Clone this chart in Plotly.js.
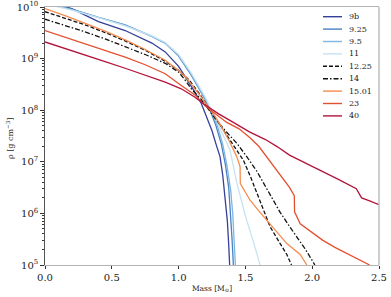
<!DOCTYPE html>
<html><head><meta charset="utf-8">
<script src="https://cdn.plot.ly/plotly-3.0.1.min.js"></script>
<style>html,body{margin:0;padding:0;background:#fff}#c{width:391px;height:297px}</style>
</head><body><div id="c"></div>
<script>
const names = ["9b","9.25","9.5","11","12.25","14","15.01","23","40"];
const colors = ["#35409a","#4a80c4","#7db6df","#c6e3f2","#111111","#111111","#f68b4e","#e4502f","#b3133b"];
const dashes = ["solid","solid","solid","solid","4px,2px","5px,2px,1.5px,2px","solid","solid","solid"];

const m_9b  = [0,0.2,0.4,0.6,0.8,0.9,1.0,1.07,1.12,1.17,1.21,1.25,1.28,1.31,1.33,1.35,1.365,1.375,1.382];
const r_9b  = [1.35e10,9.3e9,5.2e9,3.5e9,2.0e9,1.35e9,7.1e8,3.7e8,2.3e8,1.35e8,7.6e7,4.0e7,2.2e7,1.26e7,5.6e6,2.0e6,7.1e5,2.5e5,1.0e5];

const m_925 = [0,0.2,0.4,0.6,0.8,0.9,1.0,1.09,1.15,1.2,1.24,1.28,1.32,1.35,1.375,1.39,1.40,1.41];
const r_925 = [1.26e10,9.1e9,6.3e9,4.5e9,2.7e9,2.0e9,1.12e9,5.0e8,2.7e8,1.6e8,9.3e7,5.0e7,2.2e7,8.9e6,3.2e6,1.0e6,3.2e5,1.0e5];

const m_95  = [0,0.2,0.4,0.6,0.8,0.9,1.0,1.09,1.15,1.2,1.25,1.29,1.33,1.36,1.39,1.405,1.415,1.425];
const r_95  = [1.2e10,8.9e9,6.3e9,4.4e9,2.7e9,2.0e9,1.15e9,5.2e8,2.8e8,1.66e8,8.9e7,5.0e7,2.2e7,8.9e6,2.8e6,1.0e6,3.2e5,1.0e5];

const m_11  = [0,0.2,0.4,0.6,0.8,0.9,1.0,1.09,1.15,1.2,1.25,1.3,1.35,1.385,1.435,1.5,1.56,1.61];
const r_11  = [1.15e10,8.7e9,6.2e9,4.3e9,2.75e9,2.05e9,1.2e9,5.5e8,3.0e8,1.78e8,9.5e7,5.0e7,2.6e7,1.7e7,4.0e6,8.9e5,2.8e5,1.0e5];

const m_1225 = [0,0.15,0.3,0.45,0.6,0.75,0.9,1.0,1.08,1.15,1.22,1.29,1.36,1.42,1.485,1.54,1.6,1.685,1.76,1.81,1.845];
const r_1225 = [8.1e9,6.0e9,4.5e9,3.2e9,2.2e9,1.45e9,8.9e8,5.9e8,3.8e8,2.2e8,1.17e8,6.3e7,3.5e7,2.0e7,1.07e7,5.0e6,2.0e6,5.5e5,2.6e5,1.6e5,1.0e5];

const m_14 = [0,0.15,0.3,0.45,0.6,0.75,0.9,1.0,1.05,1.1,1.17,1.23,1.3,1.37,1.435,1.51,1.585,1.66,1.76,1.83,1.885,1.95,2.02];
const r_14 = [5.8e9,4.4e9,3.3e9,2.4e9,1.7e9,1.2e9,8.1e8,5.5e8,3.8e8,2.5e8,1.6e8,1.0e8,5.6e7,3.5e7,2.3e7,1.26e7,6.6e6,3.0e6,1.05e6,5.6e5,3.5e5,2.0e5,1.0e5];

const m_1501 = [0,0.15,0.3,0.45,0.6,0.75,0.9,1.0,1.05,1.11,1.17,1.23,1.28,1.32,1.38,1.435,1.46,1.462,1.5,1.535,1.6,1.66,1.74,1.81,1.91,1.96];
const r_1501 = [9.3e9,6.8e9,4.8e9,3.4e9,2.3e9,1.5e9,9.3e8,5.9e8,4.5e8,2.9e8,1.8e8,1.07e8,7.1e7,4.8e7,2.5e7,1.26e7,8.1e6,3.8e6,2.5e6,1.8e6,1.12e6,7.4e5,4.2e5,2.6e5,1.6e5,1.0e5];

const m_23 = [0,0.15,0.3,0.45,0.6,0.75,0.9,1.02,1.12,1.2,1.28,1.36,1.45,1.53,1.6,1.71,1.83,1.866,1.868,1.91,2.0,2.08,2.17,2.26,2.35,2.43];
const r_23 = [3.5e9,2.6e9,1.95e9,1.45e9,1.07e9,7.6e8,5.1e8,3.0e8,2.0e8,1.2e8,8.3e7,5.8e7,4.4e7,3.0e7,2.0e7,8.5e6,3.2e6,2.2e6,1.07e6,6.3e5,4.3e5,3.0e5,2.2e5,1.66e5,1.26e5,1.0e5];

const m_40 = [0,0.15,0.3,0.45,0.6,0.75,0.9,1.02,1.12,1.2,1.3,1.4,1.53,1.65,1.74,1.83,1.95,2.1,2.2,2.33,2.35,2.37,2.43,2.5];
const r_40 = [2.1e9,1.55e9,1.17e9,8.7e8,6.5e8,4.8e8,3.5e8,2.6e8,1.8e8,1.26e8,8.5e7,6.0e7,3.8e7,2.7e7,1.95e7,1.35e7,9.5e6,6.2e6,4.5e6,3.0e6,2.5e6,2.0e6,1.75e6,1.48e6];

const xs = [m_9b,m_925,m_95,m_11,m_1225,m_14,m_1501,m_23,m_40];
const ys = [r_9b,r_925,r_95,r_11,r_1225,r_14,r_1501,r_23,r_40];

const xTicks = [0,0.5,1.0,1.5,2.0,2.5];
const yExps = [5,6,7,8,9,10];

const FONT = "DejaVu Serif";
const traces = names.map((n,i)=>({
  x: xs[i], y: ys[i], type:'scatter', mode:'lines', name:n, showlegend:false,
  line:{color:colors[i], width:1.3, dash:dashes[i]}, hoverinfo:'skip'
}));

const L = 45, W = 334, T = 7, H = 258;
// manual legend
const shapes = [{type:'line', xref:'paper', yref:'paper', x0:1, x1:1, y0:0, y1:1, line:{color:'#b4b4b4', width:1.3}}];
const annotations = [];
names.forEach((n,i)=>{
  const py = 16.7 + i*12.4;
  const yp = 1 - (py - T)/H;
  shapes.push({type:'line', xref:'paper', yref:'paper', x0:(323-L)/W, x1:(342-L)/W, y0:yp, y1:yp,
    line:{color:colors[i], width:1.4, dash:dashes[i]}});
  annotations.push({xref:'paper', yref:'paper', x:(347-L)/W, y:yp, xanchor:'left', yanchor:'middle',
    text:n, showarrow:false, font:{family:FONT, size:8, color:'#222'}});
});
// y-axis title
annotations.push({xref:'paper', yref:'paper', x:(10-L)/W, y:1-(139-T)/H, xanchor:'center', yanchor:'middle',
  textangle:-90, text:'ρ [g cm<sup>−3</sup>]', showarrow:false, font:{family:FONT, size:8, color:'#222'}});

const layout = {
  width:391, height:297,
  margin:{l:L, r:391-L-W, t:T, b:297-T-H},
  paper_bgcolor:'#fff', plot_bgcolor:'#fff',
  showlegend:false,
  xaxis:{range:[0,2.5], tickvals:xTicks, ticktext:xTicks.map(v=>v.toFixed(1)),
    ticks:'outside', ticklen:3, tickcolor:'#333', tickwidth:1,
    showline:true, linecolor:'#b4b4b4', linewidth:1.3, mirror:true,
    showgrid:false, zeroline:false,
    tickfont:{family:FONT, size:10, color:'#222'},
    title:{text:'Mass [M<sub>⊙</sub>]', font:{family:FONT, size:7.5, color:'#222'}, standoff:3}},
  yaxis:{type:'log', range:[4.99999,10.00001],
    tickvals:yExps.map(e=>Math.pow(10,e)), ticktext:yExps.map(e=>'10<sup>'+e+'</sup>'),
    ticklabeloverflow:'allow',
    ticks:'outside', ticklen:3.5, tickcolor:'#333', tickwidth:1,
    minor:{ticks:'outside', ticklen:2, tickcolor:'#333', dtick:'D1', showgrid:false},
    showline:true, linecolor:'#555', linewidth:1.2,
    showgrid:false, zeroline:false,
    tickfont:{family:FONT, size:10, color:'#222'}},
  shapes:shapes, annotations:annotations
};
Plotly.newPlot('c', traces, layout, {staticPlot:true, displayModeBar:false});
</script></body></html>
